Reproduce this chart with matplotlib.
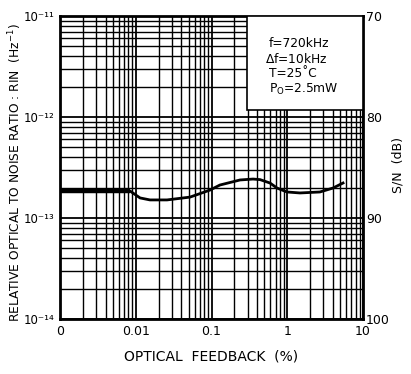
import matplotlib
matplotlib.use("Agg")
import matplotlib.pyplot as plt
from matplotlib.ticker import LogLocator, FixedLocator, NullFormatter
from matplotlib.patches import Rectangle

plt.rcParams['font.family'] = ['DejaVu Sans']
plt.rcParams['mathtext.fontset'] = 'dejavusans'

# Data
feedback_pct = [0.001, 0.0084, 0.0114, 0.0154, 0.0259, 0.052, 0.0955, 0.129,
                0.238, 0.353, 0.437, 0.592, 0.733, 0.99, 1.47, 2.70, 4.02, 5.45]
rin = [1.85e-13, 1.85e-13, 1.58e-13, 1.51e-13, 1.51e-13, 1.61e-13, 1.89e-13, 2.12e-13,
       2.38e-13, 2.43e-13, 2.40e-13, 2.22e-13, 1.98e-13, 1.81e-13, 1.77e-13, 1.81e-13,
       1.98e-13, 2.22e-13]
flat_x = [0.001, 0.0084]
flat_y = [1.85e-13, 1.85e-13]

x_ticks = [0.001, 0.01, 0.1, 1, 10]
x_ticklabels = ['0', '0.01', '0.1', '1', '10']
y_ticks = [1e-14, 1e-13, 1e-12, 1e-11]
y_ticklabels = ['10\u207b\u00b9\u2074', '10\u207b\u00b9\u00b3', '10\u207b\u00b9\u00b2', '10\u207b\u00b9\u00b9']
sn_ticks = [70, 80, 90, 100]
legend_lines = ['f=720kHz', r'$\Delta$f=10kHz', 'T=25\u02daC', r'P$_\mathregular{O}$=2.5mW']

fig = plt.figure(figsize=(4.11, 3.74), dpi=100)
ax = fig.add_axes([60/411, 1-319/374, 303/411, 303/374])
ax.set_xscale('log')
ax.set_yscale('log')
ax.set_xlim(1e-3, 10)
ax.set_ylim(1e-14, 1e-11)

ax.xaxis.set_major_locator(FixedLocator(x_ticks))
ax.set_xticklabels(x_ticklabels, fontsize=9)
ax.xaxis.set_minor_locator(LogLocator(base=10, subs=range(2, 10), numticks=20))
ax.xaxis.set_minor_formatter(NullFormatter())
ax.yaxis.set_major_locator(FixedLocator(y_ticks))
ax.set_yticklabels(y_ticklabels, fontsize=8.5)
ax.yaxis.set_minor_locator(LogLocator(base=10, subs=range(2, 10), numticks=20))
ax.yaxis.set_minor_formatter(NullFormatter())
ax.tick_params(which='both', length=0)
ax.tick_params(axis='x', pad=4)
ax.tick_params(axis='y', pad=4)

ax.grid(which='major', color='black', lw=1.3)
ax.grid(which='minor', color='black', lw=1.0)
ax.set_axisbelow(True)
for s in ax.spines.values():
    s.set_linewidth(2.0)

ax.plot(feedback_pct, rin, color='black', lw=2.0, zorder=5)
ax.plot(flat_x, flat_y, color='black', lw=3.2, zorder=5, solid_capstyle='butt')

# condition box
ax.add_patch(Rectangle((0.617, 0.69), 0.383, 0.31, transform=ax.transAxes,
                       facecolor='white', edgecolor='black', lw=1.2, zorder=6))
ys = [0.908, 0.858, 0.809, 0.759]
xs = [0.69, 0.675, 0.69, 0.69]
for t, xx, yy in zip(legend_lines, xs, ys):
    ax.text(xx, yy, t, transform=ax.transAxes, fontsize=8.8, va='center', ha='left', zorder=7)

ax2 = ax.twinx()
ax2.set_ylim(100, 70)
ax2.set_yticks(sn_ticks)
ax2.set_yticklabels([str(v) for v in sn_ticks], fontsize=9)
ax2.tick_params(length=0, pad=2)
for s in ax2.spines.values():
    s.set_visible(False)

fig.text(15/411, 1-172/374, r'RELATIVE OPTICAL TO NOISE RATIO : RIN  (Hz$^{-1}$)',
         rotation=90, ha='center', va='center', fontsize=8.8)
fig.text(211/411, 1-356/374, 'OPTICAL  FEEDBACK  (%)', ha='center', va='center', fontsize=10)
fig.text(398/411, 1-165/374, 'S/N  (dB)', rotation=90, ha='center', va='center', fontsize=9)

fig.savefig('out.png', dpi=100)
